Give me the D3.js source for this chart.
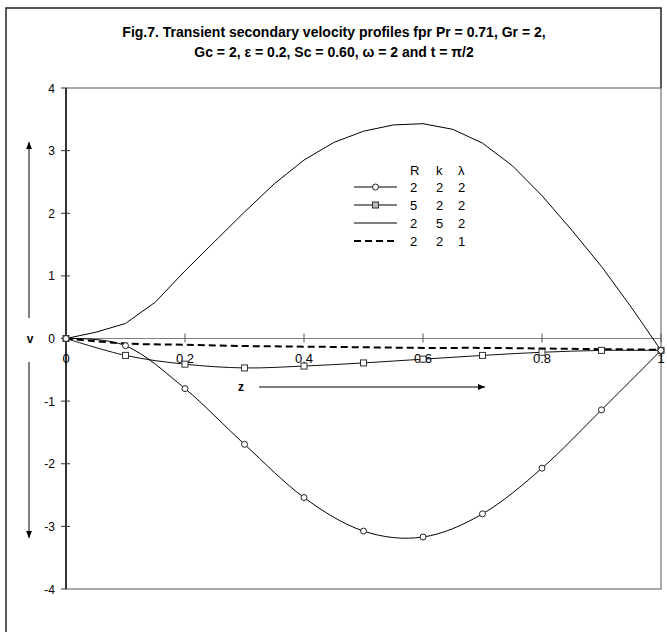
<!DOCTYPE html>
<html>
<head>
<meta charset="utf-8">
<script src="https://cdn.jsdelivr.net/npm/d3@7"></script>
<style>
  body { margin: 0; background: #fff; }
  svg text { font-family: "Liberation Sans", Arial, sans-serif; }
</style>
</head>
<body>
<div id="chart"></div>
<script>
// values
var zCoarse = [0, 0.1, 0.2, 0.3, 0.4, 0.5, 0.6, 0.7, 0.8, 0.9, 1.0]
var vCircle = [0, -0.115, -0.80, -1.69, -2.54, -3.075, -3.17, -2.80, -2.07, -1.14, -0.19]   // R=2 k=2 λ=2
var vSquare = [0, -0.27, -0.41, -0.47, -0.44, -0.39, -0.33, -0.27, -0.22, -0.19, -0.19]      // R=5 k=2 λ=2
var zFine = [0, 0.05, 0.1, 0.15, 0.2, 0.25, 0.3, 0.35, 0.4, 0.45, 0.5, 0.55, 0.6, 0.65, 0.7, 0.75, 0.8, 0.85, 0.9, 0.95, 1.0]
var vSolid = [0, 0.1, 0.24, 0.58, 1.08, 1.55, 2.02, 2.47, 2.85, 3.13, 3.31, 3.41, 3.43, 3.34, 3.12, 2.76, 2.28, 1.73, 1.15, 0.5, -0.19] // R=2 k=5 λ=2
var vDashed = [0, -0.08, -0.10, -0.12, -0.13, -0.14, -0.15, -0.15, -0.16, -0.17, -0.18]    // R=2 k=2 λ=1

var yTicks = [-4, -3, -2, -1, 0, 1, 2, 3, 4]
var xTicks = [0, 0.2, 0.4, 0.6, 0.8, 1]
var xTickLabels = ["0", "0.2", "0.4", "0.6", "0.8", "1"]
var legendHead = ["R", "k", "λ"]
var legendRows = [["2", "2", "2"], ["5", "2", "2"], ["2", "5", "2"], ["2", "2", "1"]]

var W = 667, H = 632
var svg = d3.select("#chart").append("svg").attr("width", W).attr("height", H)

var x = d3.scaleLinear().domain([0, 1]).range([66, 661])
var y = d3.scaleLinear().domain([-4, 4]).range([589, 88])

// outer chart frame (cut off at the bottom)
svg.append("path")
  .attr("d", "M6,640 L6,8 L661,8 L661,88")
  .attr("fill", "none").attr("stroke", "#222").attr("stroke-width", 1.5)

// title
var title = svg.append("g").attr("font-weight", "bold").attr("font-size", 14).attr("text-anchor", "middle")
title.append("text").attr("x", 334).attr("y", 37)
  .text("Fig.7. Transient secondary velocity profiles fpr Pr = 0.71, Gr = 2,")
title.append("text").attr("x", 334).attr("y", 57)
  .text("Gc = 2, ε = 0.2, Sc = 0.60, ω = 2 and t = π/2")

// plot area frame
svg.append("rect")
  .attr("x", x(0)).attr("y", y(4)).attr("width", x(1) - x(0)).attr("height", y(-4) - y(4))
  .attr("fill", "none").attr("stroke", "#555").attr("stroke-width", 1)

// y axis
var yAxis = svg.append("g")
yAxis.append("line").attr("x1", x(0)).attr("x2", x(0)).attr("y1", y(4)).attr("y2", y(-4))
  .attr("stroke", "#333").attr("stroke-width", 2)
yAxis.selectAll(".yt").data(yTicks).enter().append("line")
  .attr("x1", x(0) - 5).attr("x2", function(d){ return d == 4 || d == -4 ? x(0) : x(0) + 4 })
  .attr("y1", function(d){ return y(d) }).attr("y2", function(d){ return y(d) })
  .attr("stroke", "#333").attr("stroke-width", 1)
yAxis.selectAll(".yl").data(yTicks).enter().append("text")
  .attr("x", 55).attr("y", function(d){ return y(d) + 4.5 })
  .attr("text-anchor", "end").attr("font-size", 12)
  .text(function(d){ return d })

// x axis at v = 0
var xAxis = svg.append("g")
xAxis.append("line").attr("x1", x(0)).attr("x2", x(1)).attr("y1", y(0)).attr("y2", y(0))
  .attr("stroke", "#808080").attr("stroke-width", 1)
xAxis.selectAll(".xt").data(xTicks).enter().append("line")
  .attr("x1", function(d){ return x(d) }).attr("x2", function(d){ return x(d) })
  .attr("y1", y(0) - 5).attr("y2", y(0) + 4)
  .attr("stroke", "#555").attr("stroke-width", 1)
xAxis.selectAll(".xl").data(xTicks).enter().append("text")
  .attr("x", function(d){ return x(d) }).attr("y", y(0) + 24)
  .attr("text-anchor", "middle").attr("font-size", 13)
  .text(function(d, i){ return xTickLabels[i] })

// axis names and arrows
svg.append("text").attr("x", 30).attr("y", y(0) + 4).attr("text-anchor", "middle")
  .attr("font-weight", "bold").attr("font-size", 12).text("v")
svg.append("text").attr("x", 241).attr("y", 391).attr("text-anchor", "middle")
  .attr("font-weight", "bold").attr("font-size", 12).text("z")

function arrow(x1, y1, x2, y2){
  svg.append("line").attr("x1", x1).attr("y1", y1).attr("x2", x2).attr("y2", y2)
    .attr("stroke", "#000").attr("stroke-width", 1)
  var a = Math.atan2(y2 - y1, x2 - x1), L = 7, w = 3
  var bx = x2 - L * Math.cos(a), by = y2 - L * Math.sin(a)
  var p = [[x2, y2], [bx - w * Math.sin(a), by + w * Math.cos(a)], [bx + w * Math.sin(a), by - w * Math.cos(a)]]
  svg.append("path").attr("d", "M" + p.join("L") + "Z").attr("fill", "#000")
}
arrow(29, 318, 29, 142)
arrow(29, 362, 29, 538)
arrow(259, 387, 485, 387)

// series
var smooth = d3.line().curve(d3.curveCardinal.tension(0))
  .x(function(d){ return x(d[0]) }).y(function(d){ return y(d[1]) })
var straight = d3.line()
  .x(function(d){ return x(d[0]) }).y(function(d){ return y(d[1]) })

var circleData = d3.zip(zCoarse, vCircle)
var squareData = d3.zip(zCoarse, vSquare)
var solidData = d3.zip(zFine, vSolid)
var dashedData = d3.zip(zCoarse, vDashed)

svg.append("path").attr("d", straight(solidData))
  .attr("fill", "none").attr("stroke", "#000").attr("stroke-width", 1)
svg.append("path").attr("d", smooth(dashedData))
  .attr("fill", "none").attr("stroke", "#000").attr("stroke-width", 2).attr("stroke-dasharray", "7,4")
svg.append("path").attr("d", smooth(squareData))
  .attr("fill", "none").attr("stroke", "#111").attr("stroke-width", 1)
svg.append("path").attr("d", smooth(circleData))
  .attr("fill", "none").attr("stroke", "#000").attr("stroke-width", 1)

svg.selectAll(".sq").data(squareData).enter().append("rect")
  .attr("x", function(d){ return x(d[0]) - 3 }).attr("y", function(d){ return y(d[1]) - 3 })
  .attr("width", 6).attr("height", 6)
  .attr("fill", "#fff").attr("stroke", "#333").attr("stroke-width", 1)
svg.selectAll(".ci").data(circleData).enter().append("circle")
  .attr("cx", function(d){ return x(d[0]) }).attr("cy", function(d){ return y(d[1]) })
  .attr("r", 3).attr("fill", "#fff").attr("stroke", "#222").attr("stroke-width", 1)

// legend
var lg = svg.append("g").attr("font-size", 13)
var colX = [410, 436, 458]
var rowY = [187, 205, 223, 241]
lg.selectAll(".hd").data(legendHead).enter().append("text")
  .attr("x", function(d, i){ return colX[i] }).attr("y", 175).text(function(d){ return d })
legendRows.forEach(function(r, j){
  lg.selectAll(".r" + j).data(r).enter().append("text")
    .attr("x", function(d, i){ return colX[i] }).attr("y", rowY[j] + 5)
    .text(function(d){ return d })
})
var sampleStyle = [
  {stroke: "#000", w: 1, dash: null},
  {stroke: "#555", w: 1.5, dash: null},
  {stroke: "#000", w: 1, dash: null},
  {stroke: "#000", w: 2, dash: "7,4"}
]
sampleStyle.forEach(function(s, j){
  lg.append("line").attr("x1", 354).attr("x2", 397).attr("y1", rowY[j]).attr("y2", rowY[j])
    .attr("stroke", s.stroke).attr("stroke-width", s.w).attr("stroke-dasharray", s.dash)
})
lg.append("circle").attr("cx", 375.5).attr("cy", rowY[0]).attr("r", 3)
  .attr("fill", "#fff").attr("stroke", "#222")
lg.append("rect").attr("x", 372.5).attr("y", rowY[1] - 3).attr("width", 6).attr("height", 6)
  .attr("fill", "#bbb").attr("stroke", "#333")
</script>
</body>
</html>
